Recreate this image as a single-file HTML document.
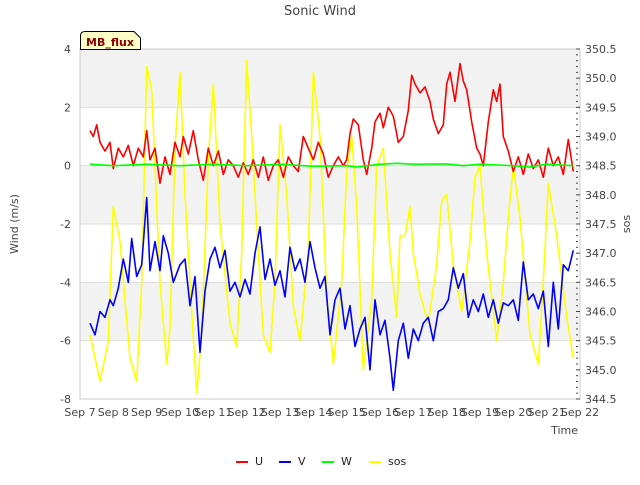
<!DOCTYPE html>
<html><head><meta charset="utf-8"><style>
body{margin:0;background:#fff;font-family:"Liberation Sans","DejaVu Sans",sans-serif;}
svg text{font-family:"DejaVu Sans","Liberation Sans",sans-serif;}
</style></head><body>
<svg id="c" width="640" height="480" viewBox="0 0 640 480" xmlns="http://www.w3.org/2000/svg">
<rect width="640" height="480" fill="#fff"/>
<text x="320" y="15" text-anchor="middle" font-size="13" fill="#444">Sonic Wind</text>
<g id="bands"></g>
<g id="grid"></g>
<g id="series"></g>
<rect x="80" y="49" width="500" height="350" fill="none" stroke="#ccc"/>
<g id="axes" font-size="11" fill="#444"></g>
<text transform="translate(18,224) rotate(-90)" text-anchor="middle" font-size="11" fill="#444">Wind (m/s)</text>
<text transform="translate(630,224) rotate(-90)" text-anchor="middle" font-size="11" fill="#444">sos</text>
<text x="578" y="434" text-anchor="end" font-size="11" fill="#444">Time</text>
<g>
<path d="M80.5,49.5 V36 Q80.5,31.5 85,31.5 H134 L140.5,38 V49.5 Z" fill="#ffffc8" stroke="#000"/>
<text x="110" y="46" text-anchor="middle" font-size="11" font-weight="bold" fill="#8b0000">MB_flux</text>
</g>
<g id="legend" font-size="11" fill="#222"></g>
</svg>
<script>
const uDays=[7.3,7.4,7.5,7.6,7.75,7.9,8.0,8.15,8.3,8.45,8.6,8.75,8.9,9.0,9.1,9.25,9.4,9.55,9.7,9.85,10.0,10.1,10.25,10.4,10.55,10.7,10.85,11.0,11.15,11.3,11.45,11.6,11.75,11.9,12.05,12.2,12.35,12.5,12.65,12.8,12.95,13.1,13.25,13.4,13.55,13.7,13.85,14.0,14.15,14.3,14.45,14.6,14.75,14.9,15.0,15.1,15.2,15.35,15.5,15.6,15.75,15.85,16.0,16.1,16.25,16.4,16.55,16.7,16.85,16.95,17.05,17.2,17.35,17.5,17.6,17.75,17.9,18.0,18.1,18.25,18.4,18.5,18.6,18.75,18.9,19.0,19.1,19.25,19.4,19.5,19.6,19.7,19.85,20.0,20.15,20.3,20.45,20.6,20.75,20.9,21.05,21.2,21.35,21.5,21.65,21.8];
const uVals=[1.2,1.0,1.4,0.8,0.5,0.8,-0.1,0.6,0.3,0.7,0.0,0.6,0.3,1.2,0.2,0.6,-0.6,0.3,-0.3,0.8,0.3,1.0,0.4,1.2,0.2,-0.5,0.6,0.0,0.5,-0.3,0.2,0.0,-0.4,0.1,-0.3,0.2,-0.4,0.3,-0.5,0.0,0.2,-0.4,0.3,0.0,-0.2,1.0,0.6,0.2,0.8,0.4,-0.4,0.0,0.3,0.0,0.2,1.1,1.6,1.4,0.2,-0.3,0.6,1.5,1.8,1.3,2.0,1.7,0.8,1.0,1.9,3.1,2.8,2.5,2.7,2.2,1.6,1.1,1.4,2.8,3.2,2.2,3.5,2.9,2.6,1.5,0.6,0.4,0.0,1.5,2.6,2.2,2.8,1.0,0.5,-0.2,0.3,-0.3,0.4,-0.1,0.2,-0.4,0.6,0.0,0.3,-0.3,0.9,-0.2];
const vDays=[7.3,7.45,7.6,7.75,7.9,8.0,8.15,8.3,8.45,8.55,8.7,8.85,9.0,9.1,9.25,9.4,9.5,9.65,9.8,10.0,10.15,10.3,10.45,10.6,10.75,10.9,11.05,11.2,11.35,11.5,11.65,11.8,11.95,12.1,12.25,12.4,12.55,12.7,12.85,13.0,13.15,13.3,13.45,13.6,13.75,13.9,14.05,14.2,14.35,14.5,14.65,14.8,14.95,15.1,15.25,15.4,15.55,15.7,15.85,16.0,16.15,16.3,16.4,16.55,16.7,16.85,17.0,17.15,17.3,17.45,17.6,17.75,17.9,18.05,18.2,18.35,18.5,18.65,18.8,18.95,19.1,19.25,19.4,19.55,19.7,19.85,20.0,20.15,20.3,20.45,20.6,20.75,20.9,21.05,21.2,21.35,21.5,21.65,21.8];
const vVals=[-5.4,-5.8,-5.0,-5.2,-4.6,-4.8,-4.2,-3.2,-4.0,-2.5,-3.8,-3.4,-1.1,-3.6,-2.6,-3.6,-2.4,-3.0,-4.0,-3.4,-3.2,-4.8,-3.8,-6.4,-4.3,-3.2,-2.8,-3.5,-2.9,-4.3,-4.0,-4.5,-3.9,-4.4,-3.0,-2.1,-3.9,-3.2,-4.1,-3.6,-4.5,-2.8,-3.6,-3.2,-4.0,-2.6,-3.5,-4.2,-3.8,-5.8,-4.6,-4.2,-5.6,-4.8,-6.2,-5.6,-5.2,-7.0,-4.6,-5.8,-5.3,-6.6,-7.7,-6.0,-5.4,-6.6,-5.6,-6.0,-5.4,-5.2,-6.0,-5.0,-4.9,-4.6,-3.5,-4.2,-3.7,-5.2,-4.6,-5.0,-4.4,-5.2,-4.6,-5.4,-4.7,-4.8,-4.6,-5.3,-3.3,-4.6,-4.4,-4.9,-4.3,-6.2,-4.0,-5.6,-3.4,-3.6,-2.9];
const wDays=[7.3,8.0,9.0,10.0,11.0,12.0,13.0,14.0,15.0,15.3,16.0,16.5,17.0,18.0,18.5,19.0,20.0,20.5,21.0,21.8];
const wVals=[0.05,0.0,0.05,0.0,0.05,0.0,0.05,-0.02,0.0,-0.05,0.05,0.08,0.05,0.06,0.0,0.05,0.0,-0.05,0.05,0.0];
const sosDays=[7.3,7.45,7.6,7.85,8.0,8.2,8.5,8.7,8.85,9.0,9.15,9.4,9.6,9.7,9.85,10.0,10.15,10.35,10.5,10.65,10.85,11.0,11.2,11.5,11.7,11.85,12.0,12.15,12.3,12.5,12.7,12.85,13.0,13.2,13.4,13.6,13.85,14.0,14.2,14.4,14.6,14.85,15.0,15.15,15.3,15.5,15.75,15.9,16.1,16.3,16.5,16.6,16.75,16.9,17.0,17.2,17.45,17.7,17.85,18.0,18.2,18.45,18.7,18.85,19.0,19.2,19.5,19.7,19.85,20.0,20.2,20.5,20.75,20.9,21.05,21.3,21.6,21.8];
const sosVals=[345.6,345.2,344.8,345.5,347.8,347.2,345.2,344.8,346.5,350.2,349.8,346.5,345.1,345.7,348.8,350.1,348.0,346.0,344.6,345.6,348.6,349.9,347.5,345.8,345.4,347.0,350.3,349.0,347.5,345.6,345.3,346.5,349.2,348.0,346.1,345.5,347.0,350.1,349.0,346.3,345.1,346.5,348.4,349.0,347.8,345.0,346.2,348.5,348.8,347.0,345.9,347.3,347.3,347.8,347.0,346.3,345.8,346.8,347.9,348.0,346.8,346.0,347.2,348.3,348.5,347.0,345.5,346.5,347.6,348.5,347.6,345.6,345.1,346.5,348.2,347.3,345.9,345.2];

const X0=80,X1=580,Y0=49,Y1=399;
const x=d=>X0+(d-7)/15*(X1-X0);
const yL=v=>Y1-(v+8)/12*(Y1-Y0);
const yR=v=>Y1-(v-344.5)/6*(Y1-Y0);
const NS="http://www.w3.org/2000/svg";
function mk(tag,parent,attrs){const e=document.createElementNS(NS,tag);for(const k in attrs)e.setAttribute(k,attrs[k]);parent.appendChild(e);return e;}
const bands=document.getElementById('bands'),grid=document.getElementById('grid'),axes=document.getElementById('axes'),series=document.getElementById('series'),legend=document.getElementById('legend');
const leftTicks=[-8,-6,-4,-2,0,2,4];
const rightTicks=[344.5,345.0,345.5,346.0,346.5,347.0,347.5,348.0,348.5,349.0,349.5,350.0,350.5];
const xTicks=["Sep 7","Sep 8","Sep 9","Sep 10","Sep 11","Sep 12","Sep 13","Sep 14","Sep 15","Sep 16","Sep 17","Sep 18","Sep 19","Sep 20","Sep 21","Sep 22"];
for(let v=-6;v<4;v+=4){
 const b=mk('rect',bands,{x:X0,y:yL(v+2),width:X1-X0,height:yL(v)-yL(v+2),fill:'#f2f2f2'});
 
 
}
const tb=mk('rect',bands,{x:X0,y:yL(4),width:X1-X0,height:yL(2)-yL(4),fill:'#f2f2f2'});


leftTicks.forEach(v=>{
 const g=mk('line',grid,{x1:X0,x2:X1,y1:yL(v),y2:yL(v),stroke:'#ddd'});
 
 
 const t=mk('text',axes,{x:71,y:yL(v)+4,'text-anchor':'end'});t.textContent=v;
 
 
});
rightTicks.forEach(v=>{
 const t=mk('text',axes,{x:585,y:yR(v)+4});t.textContent=v.toFixed(1);
 
 
});
for(let i=0;i<=60;i++){const v=344.5+i*0.1;const l=mk('line',axes,{x1:576,x2:i%5==0?580:578,y1:yR(v),y2:yR(v),stroke:'#444'});
 
 }
xTicks.forEach((s,i)=>{
 const t=mk('text',axes,{x:x(7+i),y:416,'text-anchor':'middle'});t.textContent=s;
 
 
});
function line(days,vals,fy,color,name,w){
 const d=days.map((dd,i)=>(i?'L':'M')+x(dd).toFixed(1)+','+fy(vals[i]).toFixed(1)).join('');
 const p=mk('path',series,{d:d,fill:'none',stroke:color,'stroke-width':w,'stroke-linejoin':'round'});
 
 
}
line(sosDays,sosVals,yR,'#ffff00','series-sos',1.6);
line(uDays,uVals,yL,'#ff0000','series-u',1.6);
line(vDays,vVals,yL,'#0000ff','series-v',1.6);
line(wDays,wVals,yL,'#00ff00','series-w',1.6);
const legNames=["U","V","W","sos"],legColors=["#ff0000","#0000ff","#00ff00","#ffff00"],legX=[236,279,322,369];
legNames.forEach((n,i)=>{
 const g=mk('g',legend,{});
 
 
 mk('line',g,{x1:legX[i],x2:legX[i]+12,y1:462,y2:462,stroke:legColors[i],'stroke-width':2});
 const t=mk('text',g,{x:legX[i]+19,y:465});t.textContent=n;
});
</script>
</body></html>
